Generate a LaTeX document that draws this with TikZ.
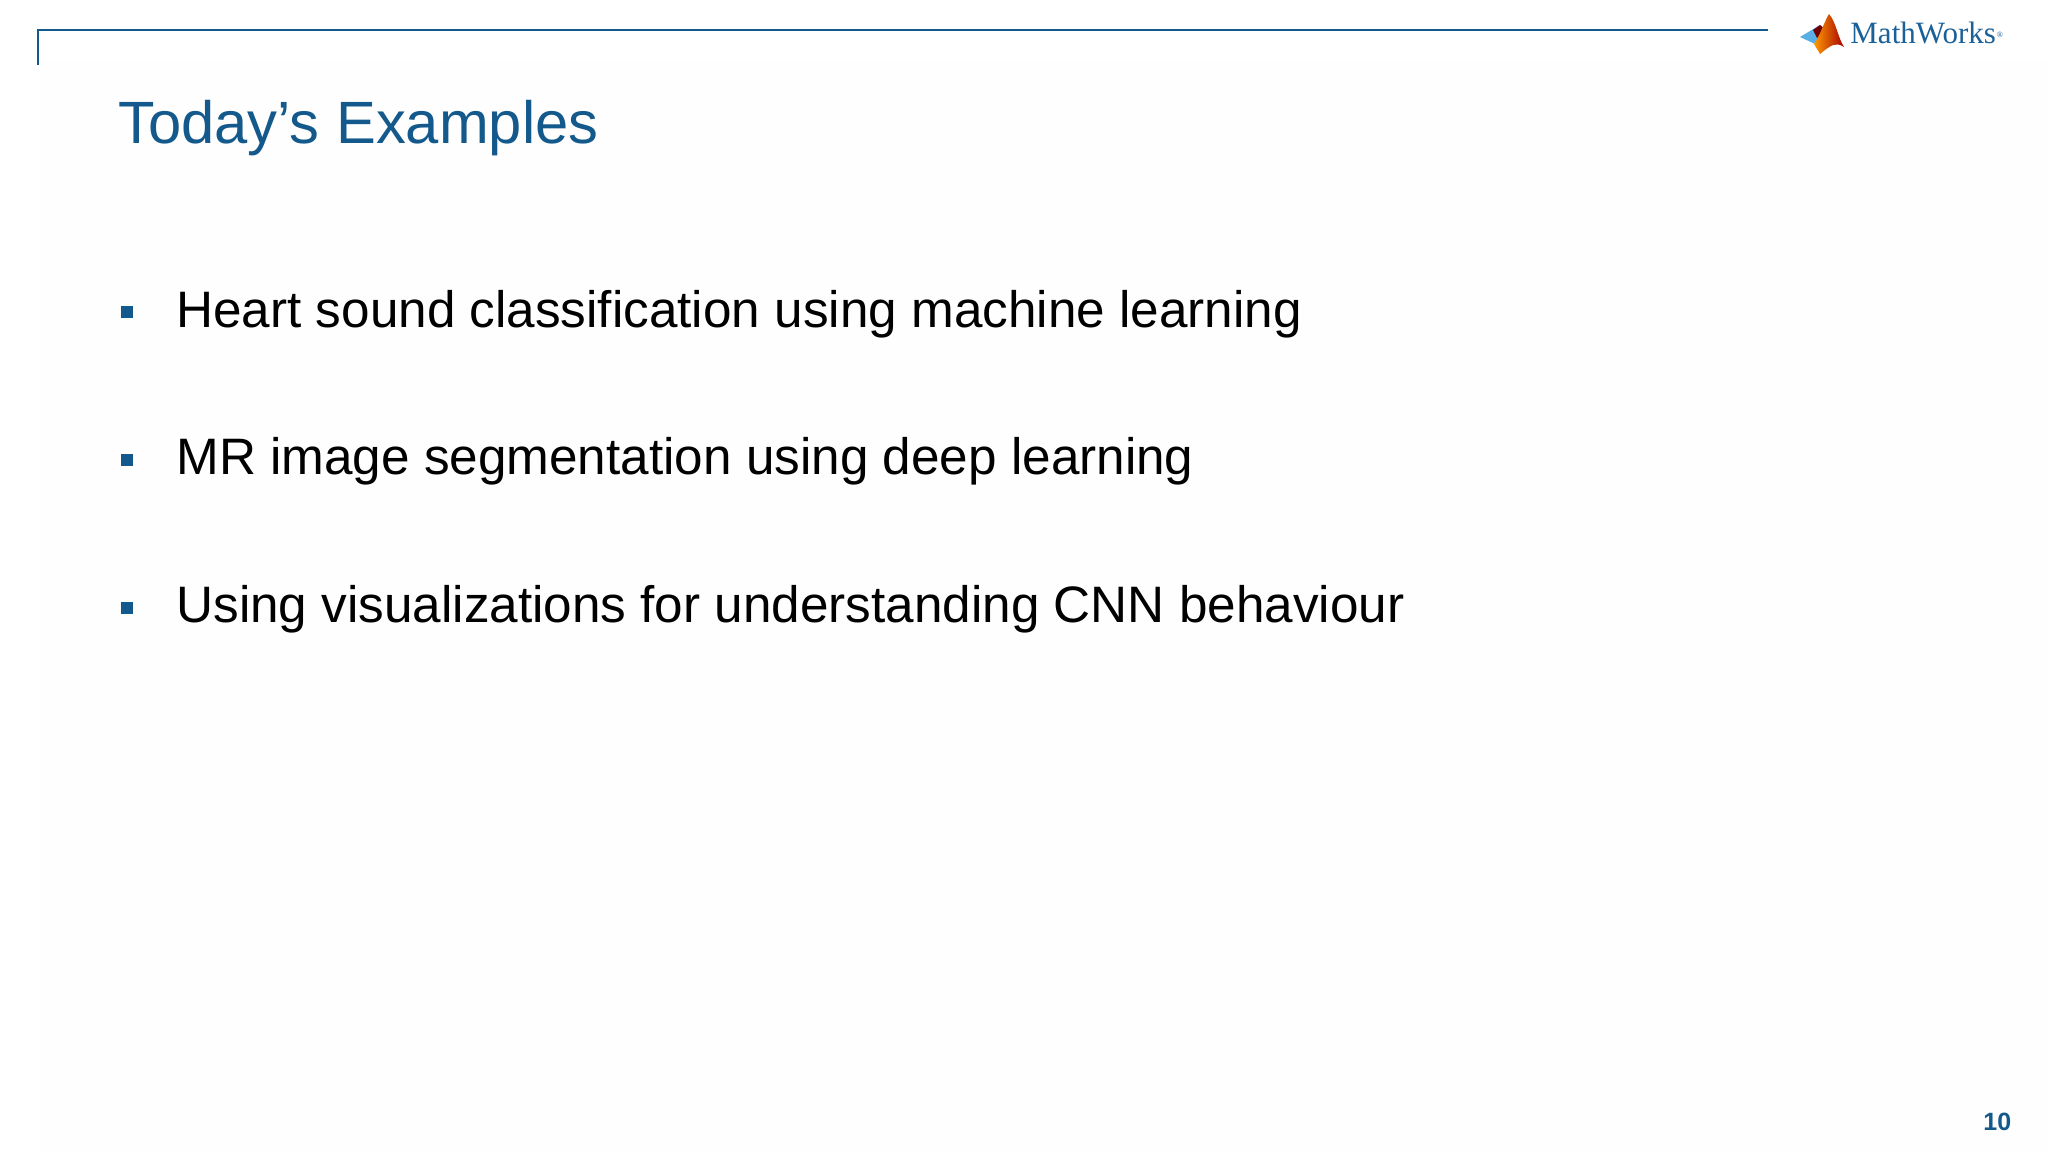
\documentclass[tikz,border=0pt]{standalone}
\usepackage{fontspec}
\setmainfont{Liberation Sans}
\newfontfamily\logofont{Liberation Serif}
\definecolor{slideblue}{HTML}{14598C}
\definecolor{logoblue}{HTML}{1B6199}
\definecolor{wingblue}{HTML}{5AAEE6}
\definecolor{pagetint}{HTML}{FEFEFE}
\tikzset{
    headline/.style={anchor=base west,inner sep=0pt,text=slideblue,font=\fontsize{29.85}{36}\selectfont},
    bodyline/.style={anchor=base west,inner sep=0pt,text=black,font=\fontsize{25.63}{30}\selectfont},
    bulletmark/.style={fill=slideblue,inner sep=0pt,minimum size=6pt},
    frameline/.style={draw=slideblue,line width=1pt}
}
\begin{document}
\begin{tikzpicture}[x=0.5pt,y=-0.5pt]
    \useasboundingbox (0,0) rectangle (2048,1152);
    \fill[white] (0,0) rectangle (2048,1152);
    \fill[pagetint] (40,60) rectangle (2048,1152);

    % frame
    \coordinate (framedown) at (38,65);
    \coordinate (framecorner) at (38,29.5);
    \coordinate (frameend) at (1768,29.5);
    \draw[frameline] (framedown) -- (framecorner) -- (frameend);

    % text
    \node[headline] (title) at (118,143) {Today’s Examples};
    \node[bodyline] (lineA) at (176,327) {Heart sound classification using machine learning};
    \node[bodyline] (lineB) at (176,474.5) {MR image segmentation using deep learning};
    \node[bodyline] (lineC) at (176,622) {Using visualizations for understanding CNN behaviour};
    \node[bulletmark] (markA) at (126.5,312) {};
    \node[bulletmark] (markB) at (126.5,460) {};
    \node[bulletmark] (markC) at (126.5,607.5) {};
    \node[anchor=base west,inner sep=0pt,text=slideblue,font=\fontsize{12.5}{15}\selectfont\bfseries] (pagenum) at (1983,1130) {10};

    % logo
    \fill[wingblue] (1800,37) -- (1820,25) -- (1826,32) -- (1815,44) -- cycle;
    \fill[red!45!black] (1813,30) -- (1820,25) -- (1826,30) -- (1817,38) -- cycle;
    \shade[shading angle=20,left color=orange!80!yellow,right color=red!65!black] (1829,14) .. controls (1836,22) and (1838,38) .. (1844,47) .. controls (1836,42) and (1832,44) .. (1820,54) .. controls (1818,50) and (1816,48) .. (1814,44) .. controls (1820,36) and (1824,22) .. (1829,14) -- cycle;
    \node[anchor=base west,inner sep=0pt,text=logoblue,font=\fontsize{15.5}{19}\selectfont\logofont] (logotext) at (1850,43) {MathWorks};
    \node[anchor=base west,inner sep=0pt,text=logoblue,font=\fontsize{4}{5}\selectfont\logofont] (logomark) at ([yshift=3pt]logotext.base east) {®};
\end{tikzpicture}
\end{document}
